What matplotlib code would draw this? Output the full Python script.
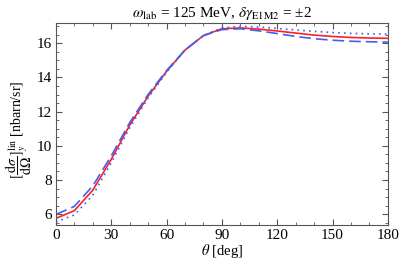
import matplotlib
matplotlib.use("Agg")
import matplotlib.pyplot as plt
import numpy as np

theta = [0, 10, 20, 30, 40, 50, 60, 70, 80, 90, 100, 110, 120, 130, 140, 150, 160, 170, 180]
central = [5.75, 6.2, 7.4, 9.2, 11.2, 12.9, 14.35, 15.6, 16.45, 16.85, 16.9, 16.83, 16.72,
           16.6, 16.48, 16.4, 16.34, 16.31, 16.29]
plus2 = [5.98, 6.45, 7.65, 9.4, 11.35, 13.0, 14.4, 15.6, 16.45, 16.8, 16.85, 16.73, 16.57,
         16.4, 16.27, 16.18, 16.12, 16.09, 16.07]
minus2 = [5.55, 5.95, 7.1, 9.0, 11.05, 12.8, 14.3, 15.6, 16.45, 16.9, 17.0, 16.95, 16.87,
          16.78, 16.7, 16.63, 16.58, 16.55, 16.54]

plt.rcParams['font.family'] = ['Liberation Serif', 'DejaVu Serif']
plt.rcParams['mathtext.fontset'] = 'stix'

fig = plt.figure(figsize=(3.99, 2.59), dpi=100)
ax = fig.add_axes([0.140, 0.131, 0.832, 0.781])

ax.plot(theta, central, color='#ff2020', lw=1.2)
ax.plot(theta, plus2, color='#3f5ff5', lw=1.2, dashes=(7, 3))
ax.plot(theta, minus2, color='#3f5ff5', lw=1.2, dashes=(1, 2.5))

ax.set_xlim(0, 180)
ax.set_ylim(5.36, 17.2)
ax.set_xticks([0, 30, 60, 90, 120, 150, 180])
ax.set_yticks([6, 8, 10, 12, 14, 16])
ax.set_xticks(np.arange(0, 181, 10), minor=True)
ax.set_yticks(np.arange(5.5, 17.2, 0.5), minor=True)
ax.tick_params(which='both', direction='in', top=True, right=True, color='#555555',
               labelsize=11)
ax.tick_params(which='major', length=4, pad=3)
ax.tick_params(which='minor', length=2)
for s in ax.spines.values():
    s.set_color('#555555')

ax.set_title(r'$\omega_{\rm lab}$ = 125 MeV, $\delta\gamma_{\rm E1M2}$ = ±2', fontsize=11, pad=4)
ax.set_xlabel(r'$\theta$ [deg]', fontsize=10.5)
ax.xaxis.set_label_coords(0.5, -0.083)
ax.set_ylabel(r'$[\dfrac{\mathrm{d}\sigma}{\mathrm{d}\Omega}]_y^{\rm lin}$ [nbarn/sr]', fontsize=10)
ax.yaxis.set_label_coords(-0.066, 0.47)

fig.savefig('out.png', dpi=100)
